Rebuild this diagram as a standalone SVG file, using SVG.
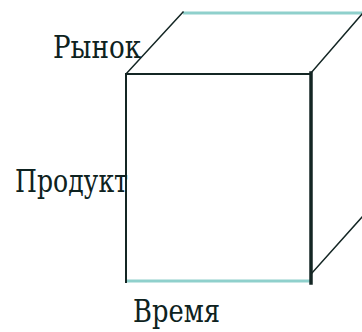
<svg xmlns="http://www.w3.org/2000/svg" width="362" height="332" viewBox="0 0 362 332">
<style>
.dark{stroke:#142624;fill:none;stroke-linecap:square}
.teal{stroke:#8fd0cc;fill:none}
.lbl{font-family:"DejaVu Serif",serif;font-size:32px;fill:#0e2220}
</style>
<rect width="362" height="332" fill="#ffffff"/>
<g id="cube">
<line class="teal" x1="183" y1="13" x2="362" y2="13" stroke-width="3"/>
<line class="dark" x1="126" y1="74" x2="183" y2="12" stroke-width="1.5"/>
<line class="dark" x1="311" y1="73" x2="362" y2="14" stroke-width="1.5"/>
<line class="dark" x1="312" y1="273" x2="362" y2="217" stroke-width="1.5"/>
<line class="dark" x1="126" y1="74" x2="311" y2="74" stroke="#24403c" stroke-width="2"/>
<line class="teal" x1="126" y1="281" x2="311" y2="281" stroke-width="3"/>
<line class="dark" x1="126" y1="74" x2="126" y2="282" stroke-width="2"/>
<line class="dark" x1="311" y1="73" x2="311" y2="283" stroke-width="3.5"/>
</g>
<g id="label-market"><text class="lbl" x="53" y="58" textLength="88" lengthAdjust="spacingAndGlyphs">Рынок</text></g>
<g id="label-product"><text class="lbl" x="15" y="192" textLength="113" lengthAdjust="spacingAndGlyphs">Продукт</text></g>
<g id="label-time"><text class="lbl" x="133" y="322" textLength="87" lengthAdjust="spacingAndGlyphs">Время</text></g>
</svg>
